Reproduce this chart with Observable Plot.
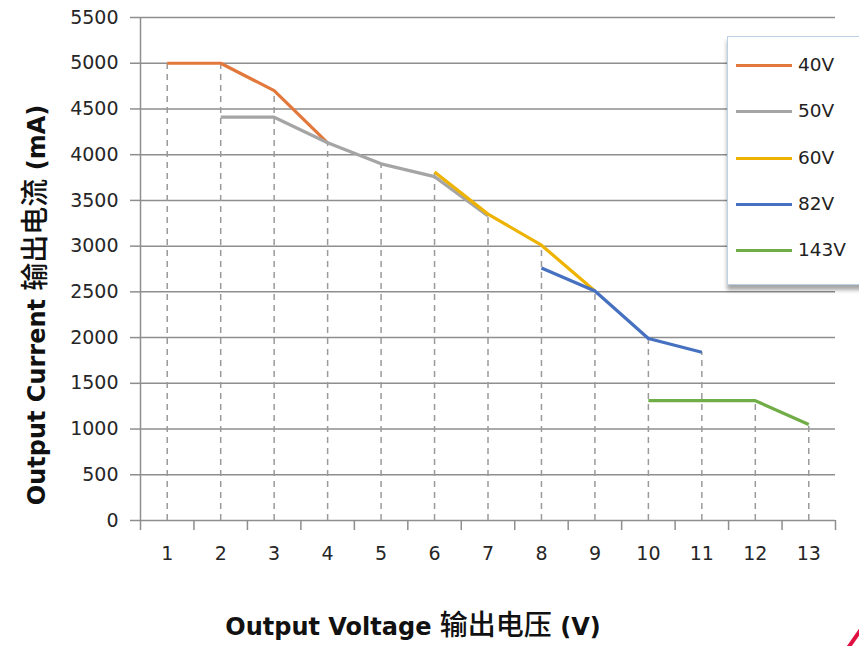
<!DOCTYPE html>
<html>
<head>
<meta charset="utf-8">
<script src="https://cdn.jsdelivr.net/npm/d3@7"></script>
<script src="https://cdn.jsdelivr.net/npm/@observablehq/plot@0.6"></script>
<style>
  html, body { margin: 0; padding: 0; background: #fff; }
  #wrap { position: relative; width: 859px; height: 646px; overflow: hidden; background: #fff; }
  #chart { position: absolute; left: 0; top: 0; }
  .title { position: absolute; font-family: "DejaVu Sans", "Noto Sans CJK SC", sans-serif; font-weight: bold; font-size: 24px; color: #111; white-space: nowrap; }
  .title .cjk { font-family: "Noto Sans CJK SC", sans-serif; font-weight: 500; font-size: 28px; }
  #xtitle { left: 0; width: 826px; text-align: center; top: 603px; }
  #ytitle { left: 33px; top: 305px; transform: translate(-50%, -50%) rotate(-90deg); }
  #legend { position: absolute; left: 727px; top: 36px; width: 150px; height: 247px; background: #fff;
            border: 1px solid #bcd0e6; box-shadow: 0 5px 4px rgba(0,0,0,0.35);
            font-family: "DejaVu Sans", sans-serif; font-size: 18.5px; color: #222; }
  .item { position: absolute; left: 0; height: 20px; }
  .item .sw { position: absolute; left: 8px; top: 9px; width: 56px; height: 3px; }
  .item .lb { position: absolute; left: 70px; top: -1px; line-height: 22px; }
  #mark { position: absolute; left: 840px; top: 620px; }
</style>
</head>
<body>
<div id="wrap">
  <div id="chart"></div>
  <div id="ytitle" class="title">Output Current <span class="cjk">输出电流</span> (mA)</div>
  <div id="xtitle" class="title">Output Voltage <span class="cjk">输出电压</span> (V)</div>
  <div id="legend"></div>
  <svg id="mark" width="19" height="26"><line x1="8" y1="28" x2="22" y2="8" stroke="#e01040" stroke-width="4"/></svg>
</div>
<script>
// ---- data ----
const categories = [1, 2, 3, 4, 5, 6, 7, 8, 9, 10, 11, 12, 13];
const yTicks = [0, 500, 1000, 1500, 2000, 2500, 3000, 3500, 4000, 4500, 5000, 5500];
const seriesNames = ["40V", "50V", "60V", "82V", "143V"];
const seriesColors = ["#E2783C", "#A5A5A5", "#EDB300", "#4670C0", "#70AD47"];

const x40 = [1, 2, 3, 4];
const y40 = [5000, 5000, 4700, 4130];
const x50 = [2, 3, 4, 5, 6, 7];
const y50 = [4410, 4410, 4130, 3900, 3760, 3330];
const x60 = [6, 7, 8, 9];
const y60 = [3810, 3350, 3010, 2510];
const x82 = [8, 9, 10, 11];
const y82 = [2760, 2510, 1990, 1840];
const x143 = [10, 11, 12, 13];
const y143 = [1310, 1310, 1310, 1050];

const seriesX = [x40, x50, x60, x82, x143];
const seriesY = [y40, y50, y60, y82, y143];

// ---- tables ----
const rows = [];
seriesNames.forEach((name, i) => {
  seriesX[i].forEach((x, j) => rows.push({series: name, x, y: seriesY[i][j]}));
});
const drops = Array.from(d3.rollup(rows, v => d3.max(v, d => d.y), d => d.x), ([x, y]) => ({x, y}));
const boundaries = [0.5, ...categories.map(c => c + 0.5)];

const gridColor = "#8e8e8e";

const lineMarks = seriesNames.map((name, i) =>
  Plot.line(rows.filter(r => r.series === name), {
    x: "x", y: "y", stroke: seriesColors[i], strokeWidth: 3.2, strokeLinejoin: "round", strokeLinecap: "butt"
  })
);

const chart = Plot.plot({
  width: 859,
  height: 646,
  marginLeft: 140,
  marginRight: 24,
  marginTop: 17,
  marginBottom: 126,
  x: {domain: [0.5, 13.5]},
  y: {domain: [0, 5500]},
  style: {fontFamily: "DejaVu Sans, sans-serif", fontSize: "19px", color: "#262626", background: "transparent"},
  marks: [
    Plot.ruleY(yTicks, {stroke: gridColor, strokeWidth: 1.5}),
    Plot.ruleX(drops, {x: "x", y1: 0, y2: "y", stroke: "#9a9a9a", strokeWidth: 1.5, strokeDasharray: "6,5"}),
    Plot.ruleX([0.5], {y1: 0, y2: 5500, stroke: gridColor, strokeWidth: 1.5}),
    Plot.axisY({ticks: yTicks, tickSize: 10, tickPadding: 12, label: null, stroke: gridColor, strokeWidth: 1.5, tickFormat: d => String(d)}),
    Plot.axisX({ticks: boundaries, tickSize: 10, tickFormat: () => "", label: null, stroke: gridColor, strokeWidth: 1.5}),
    Plot.axisX({ticks: categories, tickSize: 0, tickPadding: 26, label: null, tickFormat: d => String(d)}),
    ...lineMarks
  ]
});
document.getElementById("chart").appendChild(chart);

// ---- legend ----
const legend = document.getElementById("legend");
seriesNames.forEach((name, i) => {
  const item = document.createElement("div");
  item.className = "item";
  item.style.top = (18 + i * 46.3) + "px";
  item.innerHTML = `<div class="sw" style="background:${seriesColors[i]}"></div><div class="lb">${name}</div>`;
  legend.appendChild(item);
});
</script>
</body>
</html>
